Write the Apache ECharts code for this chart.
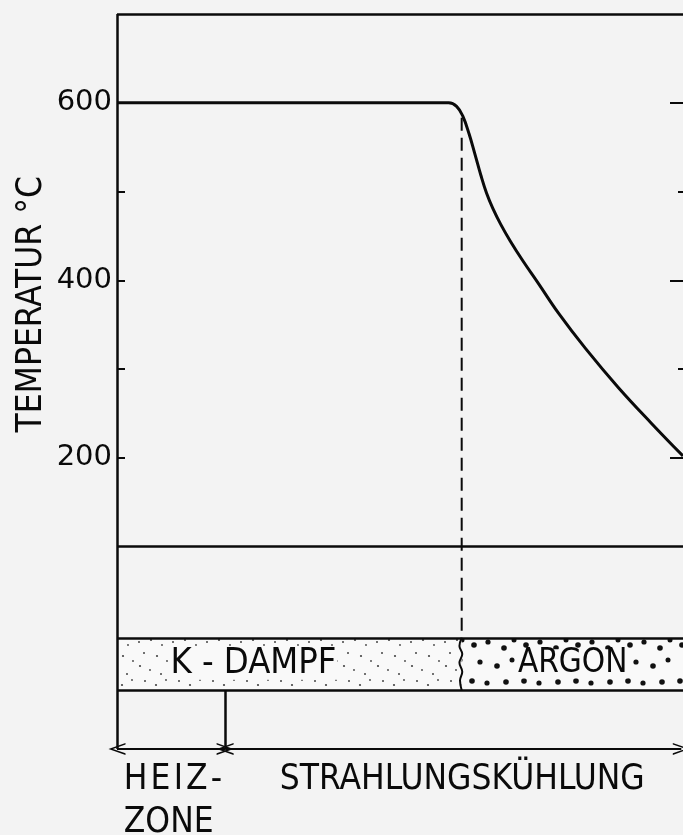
<!DOCTYPE html>
<html>
<head>
<meta charset="utf-8">
<script src="https://cdn.jsdelivr.net/npm/echarts@6/dist/echarts.min.js"></script>
<style>
  html, body { margin: 0; padding: 0; background: #f3f3f3; }
  #main { width: 683px; height: 835px; }
</style>
</head>
<body>
<div id="main"></div>
<script>
// Temperaturverlauf (x: Weg/Zeit in willkürlichen Einheiten 0..100, y: °C)
const curveX = [0, 58.6, 60.0, 61.1, 62.2, 63.2, 64.3, 65.3, 66.4, 67.8, 69.5, 71.7, 74.5, 78.0, 82.8, 88.6, 94.4, 100]
const curveT = [600, 600, 596, 585, 565, 543, 518, 498, 481, 463, 444, 422, 396, 363, 323, 279, 239, 202]

/** Achsbeschriftung */
const tempLabels = [200, 400, 600]
const tempTicks = [200, 300, 400, 500, 600]

/** Rahmen und Zonengrenzen */
const frameSegs = [
  [[0, 700], [100, 700]],
  [[0, 700], [0, -128]],
  [[0, 100], [100, 100]],
  [[0, -3], [100, -3]],
  [[0, -62], [100, -62]],
  [[19.1, -62], [19.1, -128]],
]
// Grenze K-Dampf / Argon (gewellt)
const waveX = [60.9, 60.5, 61.0, 60.5, 61.0, 60.6, 60.9]
const waveT = [-3, -12, -21, -31, -41, -51, -62]
// gestrichelte Linie am Knick
const dashX = [60.9, 60.9]
const dashT = [583, -3]

const zoneNames = ['K - DAMPF', 'ARGON']
const zoneX = [24.1, 80.5]
const zoneT = [-32, -32]
const zoneSize = [36, 33]

const phaseNames = ['H\u200AE\u200AI\u200AZ\u200A-', 'ZONE', 'STRAHLUNGSKÜHLUNG']
const phaseX = [1.2, 1.2, 61.0]
const phaseT = [-163, -211, -163]
const phaseAlign = ['left', 'left', 'center']

const arrowY = -128
const heizEnd = 19.1
const arrowEnd = 99.7

const INK = '#0a0a0a'
const FONT = "'Liberation Sans Narrow', 'DejaVu Sans Condensed', 'DejaVu Sans', sans-serif"
const BAND = '#f9f9f9'

function dotPattern(w, h, pts, color) {
  const c = document.createElement('canvas')
  c.width = w
  c.height = h
  const g = c.getContext('2d')
  g.fillStyle = BAND
  g.fillRect(0, 0, w, h)
  g.fillStyle = color
  pts.forEach(([x, y, r]) => {
    g.beginPath()
    g.arc(x, y, r, 0, Math.PI * 2)
    g.fill()
  })
  return c
}

const fineDots = dotPattern(34, 53, [
  [3, 6, 1], [15, 4, 1.1], [26, 9, 0.9], [8, 17, 1], [21, 20, 1.1], [31, 25, 0.9],
  [4, 30, 1.1], [14, 34, 0.9], [25, 38, 1], [9, 45, 1], [20, 49, 1.1], [30, 44, 0.9],
], '#444')
const bigDots = dotPattern(52, 53, [
  [6, 9, 2.8], [20, 6, 2.6], [36, 12, 2.8], [46, 4, 2.5], [12, 26, 2.6],
  [29, 30, 2.8], [44, 24, 2.5], [4, 45, 2.8], [19, 47, 2.6], [38, 46, 2.8],
], '#111')

const chart = echarts.init(document.getElementById('main'))

const tickAxis = (position, values, len, withLabel) => ({
  type: 'value',
  position,
  min: -225,
  max: 700,
  splitLine: { show: false },
  axisLine: { show: false },
  axisTick: {
    show: true,
    inside: true,
    length: len,
    customValues: values,
    lineStyle: { color: INK, width: 2 },
  },
  axisLabel: withLabel
    ? {
        show: true,
        customValues: tempLabels,
        margin: 5,
        color: INK,
        fontSize: 29,
        fontFamily: "'DejaVu Sans', sans-serif",
      }
    : { show: false },
})

const arrowHead = 'path://M5,0 L10,10 L8.7,10 L5,2.6 L1.3,10 L0,10 Z'

// Textbausteine als unsichtbare Punkte mit Label
const textSeries = (data, label) => ({
  type: 'scatter',
  symbolSize: 0,
  silent: true,
  clip: false,
  itemStyle: { opacity: 1 },
  data,
  label: {
    show: true,
    position: 'inside',
    formatter: '{b}',
    color: INK,
    opacity: 1,
    fontFamily: FONT,
    ...label,
  },
  z: 5,
})

const option = {
  backgroundColor: '#f3f3f3',
  animation: false,
  grid: { left: 117, right: -2, top: 14, bottom: 0, containLabel: false },
  xAxis: {
    type: 'value',
    min: 0,
    max: 100,
    show: false,
  },
  yAxis: [
    tickAxis('left', tempTicks, 8, true),
    tickAxis('right', tempLabels, 13, false),
    tickAxis('right', [300, 500], 5, false),
  ],
  series: [
    {
      type: 'lines',
      coordinateSystem: 'cartesian2d',
      polyline: false,
      silent: true,
      lineStyle: { color: INK, width: 2.5, opacity: 1 },
      data: frameSegs.map((coords) => ({ coords })),
      markArea: {
        silent: true,
        label: { show: false },
        data: [
          [{ coord: [0, -3], itemStyle: { color: { image: fineDots, repeat: 'repeat' } } }, { coord: [60.9, -62] }],
          [{ coord: [60.9, -3], itemStyle: { color: { image: bigDots, repeat: 'repeat' } } }, { coord: [100, -62] }],
        ],
      },
      z: 3,
    },
    {
      type: 'line',
      data: curveX.map((x, i) => [x, curveT[i]]),
      smooth: 0.4,
      showSymbol: false,
      silent: true,
      lineStyle: { color: INK, width: 3 },
      z: 4,
    },
    {
      type: 'line',
      data: dashX.map((x, i) => [x, dashT[i]]),
      showSymbol: false,
      silent: true,
      lineStyle: { color: INK, width: 2, type: [13, 7] },
      z: 4,
    },
    {
      type: 'line',
      data: waveX.map((x, i) => [x, waveT[i]]),
      smooth: 0.4,
      showSymbol: false,
      silent: true,
      lineStyle: { color: INK, width: 2 },
      z: 4,
      markLine: {
        silent: true,
        symbol: [arrowHead, arrowHead],
        symbolSize: [12, 17],
        label: { show: false },
        lineStyle: { color: INK, width: 2, type: 'solid' },
        data: [
          [{ coord: [0, arrowY] }, { coord: [heizEnd, arrowY] }],
          [{ coord: [heizEnd, arrowY] }, { coord: [arrowEnd, arrowY] }],
        ],
      },
    },
    textSeries(
      zoneX.map((x, i) => ({
        value: [x, zoneT[i]],
        name: zoneNames[i],
        label: { fontSize: zoneSize[i] },
      })),
      { backgroundColor: BAND, padding: [-2, 1] },
    ),
    textSeries(
      phaseX.map((x, i) => ({
        value: [x, phaseT[i]],
        name: phaseNames[i],
        label: { align: phaseAlign[i] },
      })),
      { fontSize: 35 },
    ),
    textSeries([{ value: [-15.1, 373], name: 'TEMPERATUR °C' }], { fontSize: 35, rotate: 90 }),
  ],
}

chart.setOption(option)
</script>
</body>
</html>
